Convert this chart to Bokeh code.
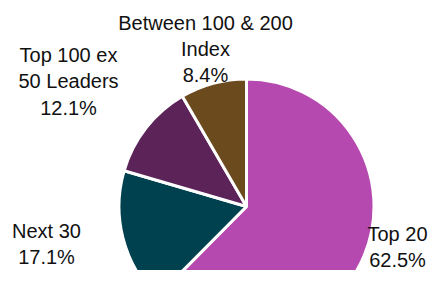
import numpy as np
from bokeh.plotting import figure
from bokeh.models import Range1d, ColumnDataSource
from bokeh.core.properties import value
from bokeh.embed import file_html
from bokeh.resources import INLINE

# ---- data ----
categories = ["Top 20", "Next 30", "Top 100 ex\n50 Leaders", "Between 100 & 200\nIndex"]
shares = [62.5, 17.1, 12.1, 8.4]
colors = ["#B649AF", "#00414F", "#5B2358", "#6B4A1E"]

# ---- layout (pixel coordinates, y measured from top) ----
W, H = 428, 270
cx, cy, R = 246, 206, 127.5
label_pos = [(397, 246.5), (46, 243.5), (68, 81), (205, 48.5)]

vals = np.array(shares, dtype=float)
frac = vals / vals.sum()
cum = np.concatenate([[0.0], np.cumsum(frac)])
start = np.pi / 2 - 2 * np.pi * cum[:-1]
end = np.pi / 2 - 2 * np.pi * cum[1:]

def Y(sy):
    return H - sy

src = ColumnDataSource(dict(x=[cx] * 4, y=[Y(cy)] * 4, start=start, end=end, color=colors))

p = figure(width=W, height=H, output_backend="svg", toolbar_location=None,
           x_range=Range1d(0, W), y_range=Range1d(0, H),
           min_border=0, outline_line_color=None)
p.axis.visible = False
p.grid.visible = False

p.wedge(x="x", y="y", radius=R, start_angle="start", end_angle="end", direction="clock",
        fill_color="color", line_color="white", line_width=3, source=src)

labels = [f"{c}\n{v:.1f}%" for c, v in zip(categories, shares)]
lsrc = ColumnDataSource(dict(x=[lp[0] for lp in label_pos], y=[Y(lp[1]) for lp in label_pos], t=labels))
p.text(x="x", y="y", text="t", source=lsrc, text_align="center", text_baseline="middle",
       text_font=value("Liberation Sans"), text_font_size="20px", text_color="#111111",
       text_line_height=1.2)

open("out.html", "w").write(file_html(p, INLINE))
